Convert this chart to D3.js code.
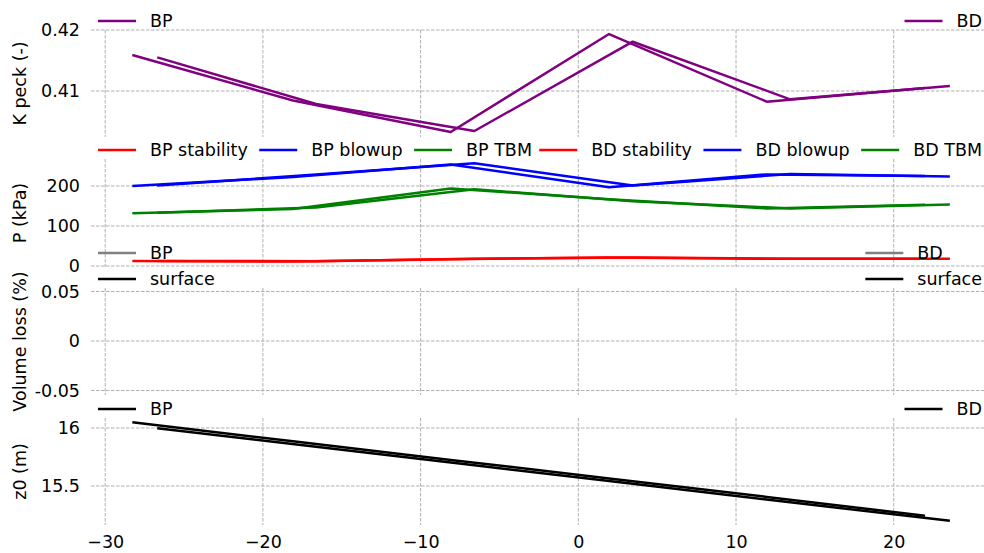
<!DOCTYPE html>
<html><head><meta charset="utf-8">
<script src="https://cdn.jsdelivr.net/npm/d3@7"></script>
<style>
body{margin:0;background:#fff}
svg text{font-family:"DejaVu Sans",sans-serif;font-size:17.5px;fill:#000}
</style>
</head><body><svg id="c" width="984" height="553"></svg>
<script>
// ---- data ----
const bpX = [-28.28, -18.09, -8.09, 1.95, 11.95, 21.98];
const bdX = [-26.7, -16.63, -6.59, 3.45, 13.43, 23.56];
const bpKpeck = [0.4159, 0.40844, 0.40328, 0.41934, 0.40825, 0.41049];
const bdKpeck = [0.41552, 0.40787, 0.40344, 0.41808, 0.40864, 0.41082];
const bpStability = [12.5, 11, 17, 21, 18, 18];
const bdStability = [12.5, 12, 18, 21.5, 18, 18];
const bpBlowup = [200, 222.5, 254, 197, 229, 225];
const bdBlowup = [201, 229, 257, 201, 230, 224];
const bpTBM = [132, 142.5, 194, 167, 144, 153];
const bdTBM = [133, 146.5, 192, 162, 144, 154];
const bpZ0 = [16.049, 15.885, 15.725, 15.565, 15.406, 15.244];
const bdZ0 = [15.997, 15.838, 15.679, 15.52, 15.36, 15.2];
const xTicks = [-30, -20, -10, 0, 10, 20];
const kTicks = [0.41, 0.42], kTickLabels = ["0.41", "0.42"];
const pTicks = [0, 100, 200], pTickLabels = ["0", "100", "200"];
const vTicks = [-0.05, 0, 0.05], vTickLabels = ["-0.05", "0", "0.05"];
const zTicks = [15.5, 16], zTickLabels = ["15.5", "16"];

const C = {purple:"#800080", red:"#ff0000", blue:"#0000ff", green:"#008000", gray:"#808080", black:"#000000"};

const svg = d3.select("#c");
const x = d3.scaleLinear().domain([-30.9, 26.2]).range([91, 991.5]);
const X0 = 91, X1 = 991.5;

const panels = [
  {top:30, bottom:137, domain:[0.40246, 0.42], ticks:kTicks, labels:kTickLabels, ylabel:"K peck (-)",
   series:[{xs:bpX, ys:bpKpeck, c:C.purple},{xs:bdX, ys:bdKpeck, c:C.purple}],
   legL:[[{t:"BP", c:C.purple}]], legR:[[{t:"BD", c:C.purple}]]},
  {top:159, bottom:267, domain:[-2.5, 267.5], ticks:pTicks, labels:pTickLabels, ylabel:"P (kPa)",
   series:[{xs:bpX, ys:bpStability, c:C.red},{xs:bdX, ys:bdStability, c:C.red},
           {xs:bpX, ys:bpBlowup, c:C.blue},{xs:bdX, ys:bdBlowup, c:C.blue},
           {xs:bpX, ys:bpTBM, c:C.green},{xs:bdX, ys:bdTBM, c:C.green}],
   legL:[[{t:"BP stability", c:C.red},{t:"BP blowup", c:C.blue},{t:"BP TBM", c:C.green}]],
   legR:[[{t:"BD stability", c:C.red},{t:"BD blowup", c:C.blue},{t:"BD TBM", c:C.green}]]},
  {top:288, bottom:395, domain:[-0.0545, 0.0535], ticks:vTicks, labels:vTickLabels, ylabel:"Volume loss (%)",
   series:[],
   legL:[[{t:"BP", c:C.gray}],[{t:"surface", c:C.black}]], legR:[[{t:"BD", c:C.gray}],[{t:"surface", c:C.black}]]},
  {top:418, bottom:525, domain:[15.164, 16.086], ticks:zTicks, labels:zTickLabels, ylabel:"z0 (m)",
   series:[{xs:bpX, ys:bpZ0, c:C.black},{xs:bdX, ys:bdZ0, c:C.black}],
   legL:[[{t:"BP", c:C.black}]], legR:[[{t:"BD", c:C.black}]]}
];

const gridColor = "#b0b0b0", dash = "3.5,1.5";
const HL = 38, HP = 14, CS = 11.5, ROWH = 26, LW = 2.5;

function legend(rows, top, side) {
  const g = svg.append("g");
  const n = rows.length;
  const meas = svg.append("text").attr("visibility","hidden");
  const w = t => { meas.text(t); return meas.node().getComputedTextLength(); };
  const ncol = d3.max(rows, r => r.length);
  const colW = d3.range(ncol).map(ci => d3.max(rows, r => r[ci] ? w(r[ci].t) : 0));
  const total = d3.sum(colW, cw => HL + HP + cw) + CS * (ncol - 1);
  const x0 = side === "L" ? 98 : 982 - total;
  rows.forEach((row, ri) => {
    const y = top - 9 - (n - 1 - ri) * ROWH;
    let cx = x0;
    row.forEach((e, ci) => {
      g.append("line").attr("x1", cx).attr("x2", cx + HL).attr("y1", y).attr("y2", y)
        .attr("stroke", e.c).attr("stroke-width", 2.7);
      g.append("text").attr("x", cx + HL + HP).attr("y", y).attr("dy", "0.35em").text(e.t);
      cx += HL + HP + colW[ci] + CS;
    });
  });
  meas.remove();
}

panels.forEach((p, i) => {
  const y = d3.scaleLinear().domain(p.domain).range([p.bottom, p.top]);
  const g = svg.append("g");
  g.selectAll(".hg").data(p.ticks).join("line")
    .attr("x1", X0).attr("x2", X1).attr("y1", d => y(d)).attr("y2", d => y(d))
    .attr("stroke", gridColor).attr("stroke-width", 1).attr("stroke-dasharray", dash);
  g.selectAll(".vg").data(xTicks).join("line")
    .attr("x1", d => x(d)).attr("x2", d => x(d)).attr("y1", p.top).attr("y2", p.bottom)
    .attr("stroke", gridColor).attr("stroke-width", 1).attr("stroke-dasharray", dash);
  const ax = svg.append("g").attr("transform", `translate(${X0},0)`)
    .call(d3.axisLeft(y).tickValues(p.ticks).tickSize(0).tickPadding(11)
      .tickFormat((d, k) => p.labels[k]));
  ax.select(".domain").remove();
  ax.attr("font-size", null).attr("font-family", null);
  ax.selectAll("text").style("font-size", "17.5px").style("font-family", '"DejaVu Sans",sans-serif');
  svg.append("text").attr("transform", `translate(26,${(p.top + p.bottom) / 2}) rotate(-90)`)
    .attr("text-anchor", "middle").text(p.ylabel);
  const line = d3.line().x(d => x(d[0])).y(d => y(d[1]));
  p.series.forEach(s => {
    g.append("path").datum(d3.zip(s.xs, s.ys)).attr("d", line)
      .attr("fill", "none").attr("stroke", s.c).attr("stroke-width", LW)
      .attr("stroke-linejoin", "round");
  });
  if (i === panels.length - 1) {
    const xa = svg.append("g").attr("transform", `translate(0,${p.bottom})`)
      .call(d3.axisBottom(x).tickValues(xTicks).tickSize(0).tickPadding(10.5));
    xa.select(".domain").remove();
    xa.attr("font-size", null).attr("font-family", null);
    xa.selectAll("text").style("font-size", "17.5px").style("font-family", '"DejaVu Sans",sans-serif');
  }
  legend(p.legL, p.top, "L");
  legend(p.legR, p.top, "R");
});
</script>
</body></html>
